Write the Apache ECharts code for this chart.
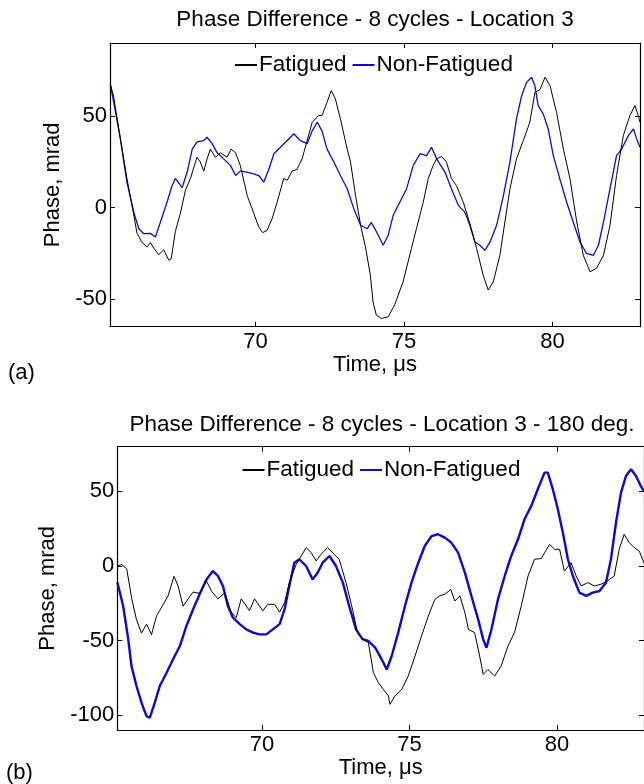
<!DOCTYPE html>
<html>
<head>
<meta charset="utf-8">
<script src="https://cdn.jsdelivr.net/npm/echarts@6/dist/echarts.min.js"></script>
<style>
html,body{margin:0;padding:0;background:#fff;}
#chart{width:644px;height:784px;}
</style>
</head>
<body>
<div id="chart"></div>
<script>
// ---- Data (time in µs, phase in mrad) ----
const titleA = 'Phase Difference - 8 cycles - Location 3';
const titleB = 'Phase Difference - 8 cycles - Location 3 - 180 deg.';
const seriesNames = ['Fatigued', 'Non-Fatigued'];
const xTicks = [70, 75, 80];
const yTicksA = [-50, 0, 50];
const yTicksB = [-100, -50, 0, 50];
const xRange = [65.1, 82.95];
const yRangeA = [-65, 90];
const yRangeB = [-110, 80];

const fatiguedA = [[65.11,67.6],[65.22,61],[65.45,37.6],[65.67,16],[65.90,-4],[66.01,-14],[66.18,-19],[66.35,-21.5],[66.46,-19],[66.57,-22],[66.74,-25.6],[66.91,-23],[67.08,-28.7],[67.16,-28],[67.30,-13],[67.47,-3],[67.64,9.5],[67.81,16],[68.03,27.6],[68.14,25],[68.26,20],[68.37,26.7],[68.48,32],[68.65,27.6],[68.82,30],[69.04,27.6],[69.18,32],[69.33,30],[69.49,23],[69.72,6.7],[69.94,-3],[70.11,-10.5],[70.24,-13.6],[70.39,-12.4],[70.56,-6],[70.73,3],[70.95,16],[71.07,15],[71.23,20],[71.40,21],[71.57,26.7],[71.74,36.7],[71.91,46.7],[72.13,50.4],[72.24,50.4],[72.41,57.6],[72.55,64],[72.69,59.5],[72.86,48.5],[73.09,32],[73.20,25],[73.37,6.7],[73.54,-9.6],[73.71,-22],[73.87,-37],[73.96,-51.5],[74.07,-58.7],[74.24,-60.5],[74.47,-59.6],[74.69,-53],[74.97,-40.5],[75.25,-22.4],[75.42,-11.5],[75.65,3],[75.82,16],[75.98,23],[76.10,26.7],[76.27,28],[76.43,25],[76.60,16],[76.77,12],[77.00,3],[77.22,-8.7],[77.45,-22.4],[77.67,-37],[77.84,-45],[78.01,-40.5],[78.23,-26],[78.40,-7.8],[78.57,10.4],[78.79,26.7],[79.02,36.7],[79.24,46.7],[79.41,63],[79.58,64.5],[79.75,71.3],[79.92,66.7],[80.14,52],[80.37,32],[80.59,16],[80.82,-7.8],[81.04,-26],[81.27,-35],[81.49,-33],[81.72,-26],[81.94,-9.6],[82.16,17.6],[82.39,39.5],[82.61,50.4],[82.78,55.8],[82.89,50.4],[82.95,46.7]];

const nonFatiguedA = [[65.11,67.6],[65.45,37.6],[65.67,14],[65.90,-2.4],[66.07,-11.5],[66.24,-14.2],[66.46,-14],[66.63,-16],[66.80,-7.8],[67.02,3],[67.19,12],[67.30,16],[67.53,11],[67.70,19.5],[67.87,32],[68.03,36],[68.26,36.7],[68.37,38.5],[68.54,35],[68.71,30],[68.93,26.7],[69.16,23],[69.33,17.6],[69.49,20],[69.72,19.5],[69.94,18.5],[70.11,17.6],[70.28,14],[70.45,21],[70.62,29.5],[70.84,33],[71.07,36.7],[71.29,40.4],[71.51,36.7],[71.74,35],[71.91,42],[72.08,46.7],[72.24,42],[72.41,32],[72.64,25],[72.86,17.6],[73.09,10.4],[73.31,-0.5],[73.54,-9.6],[73.76,-11.5],[73.90,-8],[74.07,-13],[74.30,-20.5],[74.47,-15],[74.64,-4],[74.86,3],[75.09,10.4],[75.31,23],[75.54,29.5],[75.76,28.5],[75.93,33],[76.10,26.7],[76.38,19.5],[76.60,10.4],[76.83,1.3],[77.05,-2.4],[77.22,-9.6],[77.39,-18.7],[77.56,-20.5],[77.73,-23.3],[77.90,-18.7],[78.12,-9.6],[78.34,5.8],[78.57,25],[78.79,48.5],[78.96,61],[79.13,68.5],[79.30,71.3],[79.41,66.7],[79.52,55.8],[79.69,51.3],[79.86,43],[80.03,28.5],[80.25,15.8],[80.48,3],[80.70,-7.8],[80.93,-18.7],[81.15,-25],[81.38,-26],[81.55,-20.5],[81.72,-7.8],[81.94,10.4],[82.16,28.5],[82.33,32],[82.56,39.5],[82.73,43],[82.84,37.6],[82.95,33]];

const fatiguedB = [[65.10,0],[65.25,1],[65.42,-2],[65.59,-22],[65.75,-36],[65.92,-45],[66.09,-39],[66.26,-46],[66.43,-33.5],[66.66,-25.7],[66.82,-20],[67.02,-7],[67.16,-13.4],[67.33,-27],[67.50,-22],[67.67,-17.5],[67.89,-18.3],[68.12,-10],[68.29,-16.8],[68.51,-22],[68.74,-18],[68.96,-31],[69.13,-34.7],[69.30,-22],[69.58,-30],[69.75,-22],[70.03,-30],[70.20,-25.7],[70.43,-25.7],[70.60,-31],[70.77,-24.6],[70.93,-11],[71.16,1],[71.33,6.7],[71.50,12.3],[71.67,9],[71.84,3.4],[72.00,7.8],[72.23,12.3],[72.45,7.8],[72.62,4.5],[72.85,-11],[73.07,-29],[73.24,-44.7],[73.41,-49],[73.61,-51.5],[73.78,-71.6],[73.95,-78.3],[74.12,-82.8],[74.29,-87.2],[74.34,-92.8],[74.51,-87.2],[74.74,-82.8],[74.96,-73.8],[75.19,-60.4],[75.41,-47],[75.64,-33.6],[75.86,-22.4],[76.03,-20],[76.20,-19],[76.40,-15.7],[76.54,-23.5],[76.71,-20],[76.88,-31.3],[77.00,-42.5],[77.21,-44.7],[77.38,-60.4],[77.50,-72.7],[77.66,-69.4],[77.89,-73.8],[78.11,-67],[78.34,-53.7],[78.56,-44.7],[78.79,-26.8],[79.02,-6.7],[79.24,4.5],[79.47,5],[79.75,14.5],[79.92,11.2],[80.09,11.2],[80.25,-3.4],[80.48,2.2],[80.65,-6.7],[80.82,-13.4],[81.04,-11.2],[81.27,-13.4],[81.49,-12.3],[81.72,-10],[81.94,-6.7],[82.11,11.2],[82.28,21.3],[82.45,15.7],[82.62,12.3],[82.79,10],[82.95,2]];

const nonFatiguedB = [[65.10,-11],[65.19,-18],[65.30,-27],[65.47,-49],[65.58,-67],[65.75,-80.5],[65.92,-91.7],[66.09,-100.7],[66.20,-101.8],[66.37,-91.7],[66.54,-80.5],[66.77,-71.6],[66.99,-62.6],[67.22,-53.7],[67.44,-40.3],[67.67,-29],[67.89,-19],[68.12,-9],[68.34,-3.4],[68.51,-6.7],[68.68,-13.4],[68.85,-27],[69.02,-34.7],[69.25,-39],[69.47,-42.5],[69.70,-44.7],[69.92,-45.9],[70.15,-45.9],[70.37,-42.5],[70.60,-39],[70.77,-29],[70.93,-13.4],[71.10,2.2],[71.27,4.5],[71.50,0],[71.72,-9],[71.89,-4.5],[72.06,2.2],[72.29,6.7],[72.51,0],[72.74,-11],[72.96,-27],[73.19,-42.5],[73.41,-49],[73.61,-50.3],[73.84,-54.8],[74.06,-62.6],[74.23,-69.4],[74.40,-60.4],[74.62,-44.7],[74.85,-26.8],[75.07,-11.2],[75.30,2.2],[75.52,13.4],[75.75,20],[75.97,21.3],[76.20,19],[76.42,15.7],[76.65,9],[76.88,-4.5],[77.10,-20],[77.33,-35.8],[77.50,-49.2],[77.61,-54.8],[77.78,-42.5],[78.00,-22.4],[78.23,-6.7],[78.45,6.7],[78.68,17.9],[78.90,31.3],[79.13,40.3],[79.35,51.5],[79.58,62.6],[79.69,62.6],[79.86,51.5],[80.03,38],[80.20,22.4],[80.37,4.5],[80.54,-6.7],[80.76,-17.9],[80.99,-20],[81.21,-17.9],[81.44,-16.8],[81.66,-11.2],[81.83,4.5],[82.00,29],[82.17,49.2],[82.34,60.4],[82.51,64.9],[82.68,60.4],[82.84,53.7],[82.95,50]];

// ---- Styling ----
const FONT = 'Liberation Sans, Arial, sans-serif';
const FS = 22;
const BLACK = '#000000';
const BLUE = '#0a0ad2';

function xAxes(gridIndex) {
  const common = {
    type: 'value', gridIndex, min: xRange[0], max: xRange[1],
    splitLine: { show: false },
    axisLine: { show: true, onZero: false, lineStyle: { color: BLACK, width: 1.2 } },
    axisTick: { show: true, inside: true, length: 5, customValues: xTicks, lineStyle: { color: BLACK, width: 1 } }
  };
  return [
    Object.assign({}, common, {
      position: 'bottom',
      axisLabel: { show: true, customValues: xTicks, color: BLACK, fontSize: FS, fontFamily: FONT, margin: 4 },
      name: 'Time, \u03bcs', nameLocation: 'middle', nameGap: 23,
      nameTextStyle: { color: BLACK, fontSize: FS, fontFamily: FONT }
    }),
    Object.assign({}, common, { position: 'top', axisLabel: { show: false } })
  ];
}
function yAxes(gridIndex, range, ticks, gap) {
  const common = {
    type: 'value', gridIndex, min: range[0], max: range[1],
    splitLine: { show: false },
    axisLine: { show: true, onZero: false, lineStyle: { color: BLACK, width: 1.2 } },
    axisTick: { show: true, inside: true, length: 5, customValues: ticks, lineStyle: { color: BLACK, width: 1 } }
  };
  return [
    Object.assign({}, common, {
      position: 'left',
      axisLabel: { show: true, customValues: ticks, color: BLACK, fontSize: FS, fontFamily: FONT, margin: 3 },
      name: 'Phase, mrad', nameLocation: 'middle', nameGap: gap, nameRotate: 90,
      nameTextStyle: { color: BLACK, fontSize: FS, fontFamily: FONT }
    }),
    Object.assign({}, common, { position: 'right', axisLabel: { show: false } })
  ];
}

const legendBase = {
  data: seriesNames, padding: 0, itemGap: 6, itemWidth: 22, itemHeight: 2, icon: 'rect',
  textStyle: { fontSize: 22.5, color: BLACK, fontFamily: FONT, padding: [0, 0, 0, -3] }
};

const chart = echarts.init(document.getElementById('chart'), null, { renderer: 'canvas' });
const option = {
  backgroundColor: '#ffffff',
  animation: false,
  title: [
    { text: titleA, left: 375, top: 8, textAlign: 'center', padding: 0,
      textStyle: { fontSize: 22.5, fontWeight: 'normal', color: BLACK, fontFamily: FONT } },
    { text: titleB, left: 382, top: 413, textAlign: 'center', padding: 0,
      textStyle: { fontSize: 22.5, fontWeight: 'normal', color: BLACK, fontFamily: FONT } }
  ],
  legend: [
    Object.assign({}, legendBase, { left: 235, top: 53.5 }),
    Object.assign({}, legendBase, { left: 242.5, top: 458.5 })
  ],
  grid: [
    { left: 110, right: 4, top: 43, height: 283.7, containLabel: false },
    { left: 117.3, right: -1.7, top: 446.7, height: 283.3, containLabel: false }
  ],
  xAxis: xAxes(0).concat(xAxes(1)),
  yAxis: yAxes(0, yRangeA, yTicksA, 38).concat(yAxes(1, yRangeB, yTicksB, 51)),
  series: [
    { name: seriesNames[0], type: 'line', xAxisIndex: 0, yAxisIndex: 0, data: fatiguedA, showSymbol: false, symbol: 'none',
      lineStyle: { color: BLACK, width: 1 }, itemStyle: { color: BLACK }, z: 3 },
    { name: seriesNames[1], type: 'line', xAxisIndex: 0, yAxisIndex: 0, data: nonFatiguedA, showSymbol: false, symbol: 'none',
      lineStyle: { color: BLUE, width: 1.3 }, itemStyle: { color: BLUE }, z: 2 },
    { name: seriesNames[0], type: 'line', xAxisIndex: 2, yAxisIndex: 2, data: fatiguedB, showSymbol: false, symbol: 'none',
      lineStyle: { color: BLACK, width: 1 }, itemStyle: { color: BLACK }, z: 3 },
    { name: seriesNames[1], type: 'line', xAxisIndex: 2, yAxisIndex: 2, data: nonFatiguedB, showSymbol: false, symbol: 'none',
      lineStyle: { color: BLUE, width: 2.4 }, itemStyle: { color: BLUE }, z: 2 }
  ],
  graphic: [
    { type: 'text', left: 8, top: 362, style: { text: '(a)', fontSize: FS, fontFamily: FONT, fill: BLACK } },
    { type: 'text', left: 6, top: 762, style: { text: '(b)', fontSize: FS, fontFamily: FONT, fill: BLACK } }
  ]
};
chart.setOption(option);
</script>
</body>
</html>
